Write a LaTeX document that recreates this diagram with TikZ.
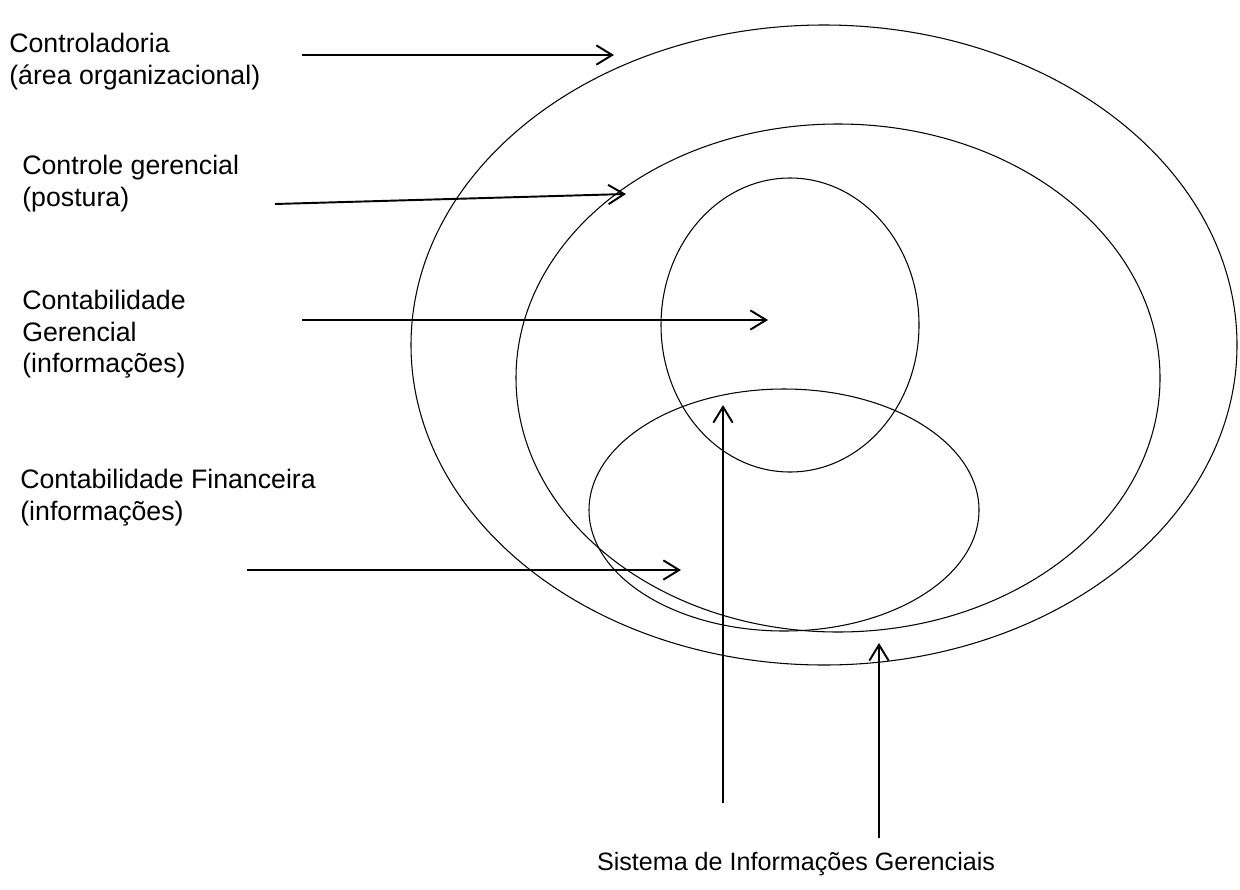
\documentclass[tikz,border=0pt]{standalone}
\usepackage{fontspec}
\setmainfont{Liberation Sans}
\usetikzlibrary{arrows.meta}
\begin{document}
\begin{tikzpicture}[x=0.02cm,y=-0.02cm,
  ring/.style={draw=black,line width=0.6pt},
  pointer/.style={draw=black,line width=1.1pt,-{Straight Barb[length=9pt,width=11pt,line width=1.1pt]}},
  caption/.style={anchor=north west,inner sep=0pt,align=left,font=\fontsize{15.2}{18}\selectfont}
]
\useasboundingbox (0,0) rectangle (1240,889);

% nested ellipses
\draw[ring] (824,345) ellipse [x radius=413,y radius=320];
\draw[ring] (838,378) ellipse [x radius=322,y radius=254];
\draw[ring] (790,325) ellipse [x radius=129,y radius=147];
\draw[ring] (784,510) ellipse [x radius=195,y radius=121];

% labels
\node[caption] (ctrl) at (9,33) {Controladoria\\(área organizacional)};
\node[caption] (cg) at (22,155) {Controle gerencial\\(postura)};
\node[caption] (cge) at (22,290) {Contabilidade\\Gerencial\\(informações)};
\node[caption] (cf) at (20,469) {Contabilidade Financeira\\(informações)};
\node[anchor=center,inner sep=0pt,font=\fontsize{14.3}{18}\selectfont] (sig) at (796,864) {Sistema de Informações Gerenciais};

% arrow ends
\coordinate (a1s) at (302,55);  \coordinate (a1e) at (614,55);
\coordinate (a2s) at (275,204); \coordinate (a2e) at (626,194);
\coordinate (a3s) at (302,320); \coordinate (a3e) at (768,320);
\coordinate (a4s) at (247,570); \coordinate (a4e) at (681,570);
\coordinate (v1s) at (723,803); \coordinate (v1e) at (723,405);
\coordinate (v2s) at (879,838); \coordinate (v2e) at (879,643);

\draw[pointer] (a1s) -- (a1e);
\draw[pointer] (a2s) -- (a2e);
\draw[pointer] (a3s) -- (a3e);
\draw[pointer] (a4s) -- (a4e);
\draw[pointer] (v1s) -- (v1e);
\draw[pointer] (v2s) -- (v2e);
\end{tikzpicture}
\end{document}
